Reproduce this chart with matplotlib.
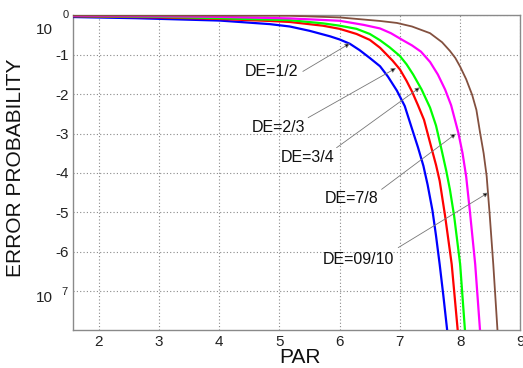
import numpy as np
import matplotlib
matplotlib.use("Agg")
import matplotlib.pyplot as plt

plt.rcParams['font.family'] = ['Liberation Sans', 'DejaVu Sans']

# ---- data (PAR vs log10 error probability) ----
blue_x = [1.57, 2.63, 4.01, 4.84, 5.17, 5.50, 5.84, 6.00, 6.17, 6.33, 6.50, 6.67, 6.80, 6.95, 7.08, 7.22, 7.30, 7.39,
          7.46, 7.54, 7.60, 7.66, 7.72, 7.785]
blue_e = [-0.04, -0.07, -0.13, -0.22, -0.28, -0.39, -0.53, -0.61, -0.72, -0.88, -1.08, -1.29, -1.55, -1.91, -2.30, -2.97, -3.35, -3.82,
          -4.30, -4.95, -5.60, -6.32, -7.10, -8.0]

red_x = [1.57, 3.0, 4.01, 4.84, 5.17, 5.72, 6.0, 6.28, 6.50, 6.67, 6.88, 7.0, 7.11, 7.20, 7.30, 7.40,
         7.53, 7.60, 7.66, 7.75, 7.86, 7.96]
red_e = [-0.02, -0.05, -0.09, -0.14, -0.165, -0.26, -0.34, -0.47, -0.62, -0.82, -1.15, -1.37, -1.66, -1.93, -2.28, -2.65,
         -3.40, -3.80, -4.20, -5.09, -6.32, -8.0]

green_x = [1.57, 3.0, 4.01, 5.17, 5.72, 6.0, 6.28, 6.50, 6.67, 6.83, 7.0, 7.11, 7.22, 7.36, 7.50, 7.60,
           7.69, 7.77, 7.83, 7.90, 8.00, 8.08]
green_e = [-0.015, -0.035, -0.07, -0.12, -0.20, -0.26, -0.34, -0.47, -0.63, -0.81, -1.03, -1.24, -1.50, -1.88, -2.34, -2.80,
           -3.40, -3.95, -4.42, -5.09, -6.32, -8.0]

magenta_x = [1.57, 3.0, 4.0, 5.17, 6.0, 6.40, 6.67, 6.85, 7.05, 7.20, 7.35, 7.50, 7.63, 7.75, 7.85, 7.97,
             8.04, 8.10, 8.16, 8.25, 8.33]
magenta_e = [-0.01, -0.02, -0.035, -0.075, -0.135, -0.24, -0.33, -0.45, -0.63, -0.76, -0.92, -1.18, -1.50, -1.88, -2.28, -2.98,
             -3.50, -4.09, -4.95, -6.32, -8.0]

brown_x = [1.57, 4.0, 5.17, 6.0, 6.67, 6.95, 7.20, 7.50, 7.70, 7.83, 7.92, 8.00, 8.10, 8.20, 8.27, 8.33,
           8.39, 8.44, 8.49, 8.55, 8.62]
brown_e = [-0.002, -0.004, -0.008, -0.05, -0.14, -0.19, -0.28, -0.45, -0.68, -0.90, -1.08, -1.30, -1.62, -2.02, -2.40, -2.97,
           -3.50, -4.08, -5.05, -6.32, -8.0]

series_colors = ['#0000ff', '#ff0000', '#00ff00', '#ff00ff', '#83503f']
series_widths = [1.6, 1.6, 1.6, 1.6, 1.3]

labels = ['DE=1/2', 'DE=2/3', 'DE=3/4', 'DE=7/8', 'DE=09/10']
# text centre, arrow start, arrow tip (PAR, log10 prob)
label_pos = [(4.874, -1.434), (4.990, -2.843), (5.472, -3.604), (6.203, -4.645), (6.319, -6.193)]
arrow_from = [(5.389, -1.421), (5.477, -2.596), (5.949, -3.358), (6.696, -4.416), (6.972, -5.896)]
arrow_to = [(6.169, -0.711), (6.934, -1.338), (7.332, -1.827), (7.930, -3.003), (8.467, -4.50)]

xticks = [2, 3, 4, 5, 6, 7, 8, 9]
yexp = [-7, -6, -5, -4, -3, -2, -1, 0]
ytick_text = ['', '-6', '-5', '-4', '-3', '-2', '-1', '']

fig = plt.figure(figsize=(5.23, 3.68), dpi=100)
ax = fig.add_axes([0.139, 0.102, 0.856, 0.856])

xs = [blue_x, red_x, green_x, magenta_x, brown_x]
es = [blue_e, red_e, green_e, magenta_e, brown_e]
for x, e, c, w in zip(xs, es, series_colors, series_widths):
    ax.semilogy(x, 10.0 ** np.array(e), color=c, lw=w, zorder=3, solid_joinstyle='round')

ax.set_xlim(1.568, 9.0)
ax.set_ylim(1e-8, 1.0)
ax.set_xticks(xticks)
ax.set_xticklabels([str(t) for t in xticks])
ax.set_yticks([10.0 ** k for k in yexp])
ax.set_yticklabels(ytick_text)
ax.yaxis.set_minor_locator(matplotlib.ticker.NullLocator())

ax.grid(True, which='major', color='#8a8a8a', linestyle=(0, (1, 2)), linewidth=0.8)
for s in ax.spines.values():
    s.set_color('#8a8a8a')
    s.set_linewidth(1.0)
ax.tick_params(axis='both', direction='in', length=0, labelsize=11, colors='#333333', labelcolor='#222222')
ax.tick_params(axis='x', pad=3)
ax.tick_params(axis='y', pad=3)

# power-of-ten labels drawn like the original
ax.annotate('10', xy=(0, 1.0), xycoords=('axes fraction', 'data'), xytext=(-19.4, -15),
            textcoords='offset pixels', ha='right', va='center', fontsize=11, color='#222222')
ax.annotate('0', xy=(0, 1.0), xycoords=('axes fraction', 'data'), xytext=(-9.7, 0),
            textcoords='offset pixels', ha='left', va='center', fontsize=8, color='#222222')
ax.annotate('10', xy=(0, 1e-7), xycoords=('axes fraction', 'data'), xytext=(-19.4, -7),
            textcoords='offset pixels', ha='right', va='center', fontsize=11, color='#222222')
ax.annotate('7', xy=(0, 1e-7), xycoords=('axes fraction', 'data'), xytext=(-11, -1),
            textcoords='offset pixels', ha='left', va='center', fontsize=8, color='#222222')

for lab, p, a0, a1 in zip(labels, label_pos, arrow_from, arrow_to):
    ax.text(p[0], 10.0 ** p[1], lab, ha='center', va='center', fontsize=11.5, color='#111111', zorder=4)
    ax.annotate('', xy=(a1[0], 10.0 ** a1[1]), xytext=(a0[0], 10.0 ** a0[1]),
                arrowprops=dict(arrowstyle='-|>', color='#777777', fc='black', lw=0.6,
                                mutation_scale=7, shrinkA=0, shrinkB=0), zorder=4)

ax.set_xlabel('PAR', fontsize=15, color='#111111')
ax.xaxis.set_label_coords(0.508, -0.056)
ax.xaxis.label.set_va('top')
ax.set_ylabel('ERROR PROBABILITY', fontsize=15, color='#111111')
ax.yaxis.set_label_coords(-0.107, 0.517)

fig.savefig('out.png', dpi=100)
